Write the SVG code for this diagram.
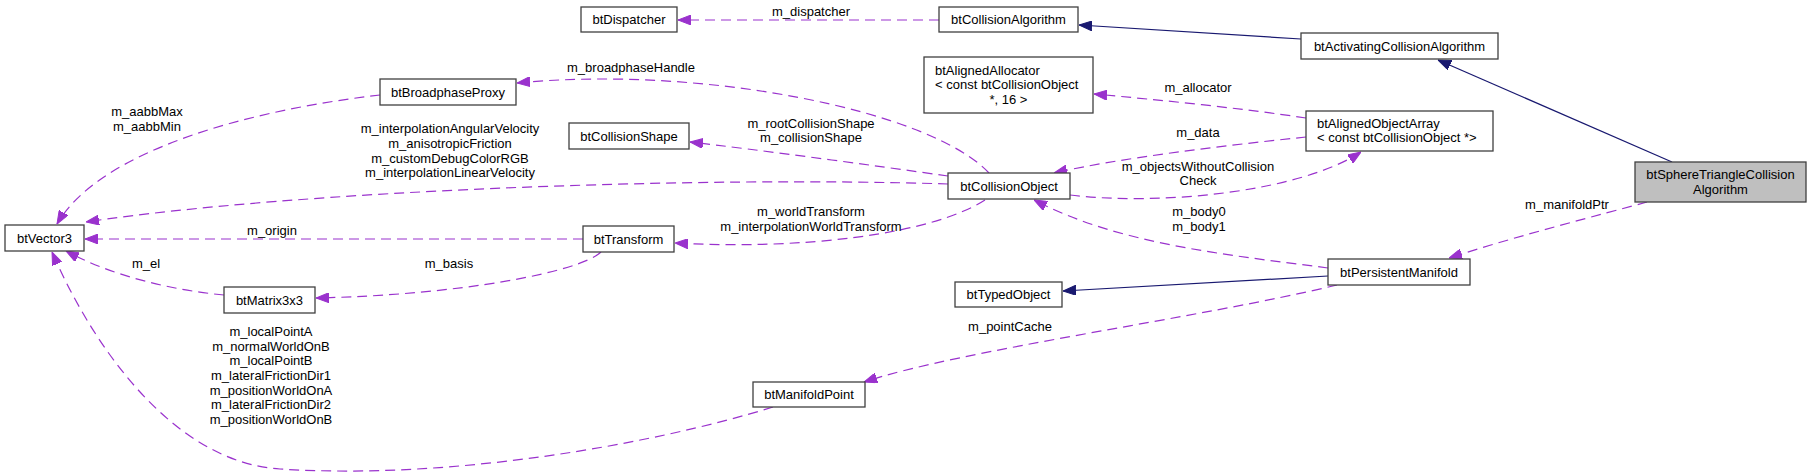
<svg xmlns="http://www.w3.org/2000/svg" width="1811" height="476" viewBox="0 0 1811 476">
<style>
.n rect{fill:#ffffff;stroke:#404040;stroke-width:1.3}
.n.root rect{fill:#bfbfbf}
text{font-family:"Liberation Sans",Arial,sans-serif;font-size:13px;fill:#000000}
.c{text-anchor:middle}
.e path{fill:none;stroke:#9a32cd;stroke-width:1.2;stroke-dasharray:10,6;marker-end:url(#ap)}
.e path.inh{stroke:#191970;stroke-dasharray:none;marker-end:url(#an)}
</style>
<defs>
<marker id="ap" viewBox="0 0 13 10" refX="13" refY="5" markerWidth="13" markerHeight="10" markerUnits="userSpaceOnUse" orient="auto"><path d="M0,0 L13,5 L0,10 z" fill="#9a32cd" stroke="#9a32cd" stroke-width="1"/></marker>
<marker id="an" viewBox="0 0 13 10" refX="13" refY="5" markerWidth="13" markerHeight="10" markerUnits="userSpaceOnUse" orient="auto"><path d="M0,0 L13,5 L0,10 z" fill="#191970" stroke="#191970" stroke-width="1"/></marker>
</defs>
<rect width="1811" height="476" fill="#ffffff"/>
<g id="edges" class="e">
<path d="M939,20 L678,20"/>
<path class="inh" d="M1301,39 L1079,25"/>
<path class="inh" d="M1672,162 L1438,60"/>
<path d="M1647,202 C1600,215 1520,235 1449,258"/>
<path d="M1328,268 C1230,255 1120,245 1034,200"/>
<path class="inh" d="M1328,276 L1063,291"/>
<path d="M1337,285 C1200,318 960,350 864,382"/>
<path d="M1070,195 C1160,206 1300,192 1361,152"/>
<path d="M1306,137 C1220,146 1120,158 1054,173"/>
<path d="M1306,118 C1240,108 1160,100 1094,94"/>
<path d="M989,173 C930,110 700,65 517,83"/>
<path d="M948,176 C870,165 760,150 690,142"/>
<path d="M948,184 C700,176 300,190 86,222"/>
<path d="M985,200 C930,235 800,250 675,243"/>
<path d="M583,239 L85,239"/>
<path d="M601,252 C580,272 460,295 316,298"/>
<path d="M224,295 C170,290 110,275 66,251"/>
<path d="M380,95 C250,110 100,150 57,224"/>
<path d="M773,407 C650,445 450,480 280,469 C170,462 90,340 52,252"/>
</g>
<g id="labels">
<text class="c" x="811" y="16">m_dispatcher</text>
<text class="c" x="1567" y="209">m_manifoldPtr</text>
<text class="c" x="1199" y="216">m_body0</text>
<text class="c" x="1199" y="231">m_body1</text>
<text class="c" x="1010" y="331">m_pointCache</text>
<text class="c" x="1198" y="171">m_objectsWithoutCollision</text>
<text class="c" x="1198" y="185">Check</text>
<text class="c" x="1198" y="137">m_data</text>
<text class="c" x="1198" y="92">m_allocator</text>
<text class="c" x="631" y="72">m_broadphaseHandle</text>
<text class="c" x="811" y="128">m_rootCollisionShape</text>
<text class="c" x="811" y="142">m_collisionShape</text>
<text class="c" x="450" y="133">m_interpolationAngularVelocity</text>
<text class="c" x="450" y="148">m_anisotropicFriction</text>
<text class="c" x="450" y="163">m_customDebugColorRGB</text>
<text class="c" x="450" y="177">m_interpolationLinearVelocity</text>
<text class="c" x="811" y="216">m_worldTransform</text>
<text class="c" x="811" y="231">m_interpolationWorldTransform</text>
<text class="c" x="272" y="235">m_origin</text>
<text class="c" x="449" y="268">m_basis</text>
<text class="c" x="146" y="268">m_el</text>
<text class="c" x="147" y="116">m_aabbMax</text>
<text class="c" x="147" y="131">m_aabbMin</text>
<text class="c" x="271" y="336">m_localPointA</text>
<text class="c" x="271" y="351">m_normalWorldOnB</text>
<text class="c" x="271" y="365">m_localPointB</text>
<text class="c" x="271" y="380">m_lateralFrictionDir1</text>
<text class="c" x="271" y="395">m_positionWorldOnA</text>
<text class="c" x="271" y="409">m_lateralFrictionDir2</text>
<text class="c" x="271" y="424">m_positionWorldOnB</text>
</g>
<g id="btDispatcher" class="n"><rect x="581" y="7" width="96" height="25"/><text class="c" x="629" y="24">btDispatcher</text></g>
<g id="btCollisionAlgorithm" class="n"><rect x="939" y="7" width="139" height="25"/><text class="c" x="1008.5" y="24">btCollisionAlgorithm</text></g>
<g id="btActivatingCollisionAlgorithm" class="n"><rect x="1301" y="33" width="197" height="26"/><text class="c" x="1399.5" y="51">btActivatingCollisionAlgorithm</text></g>
<g id="btBroadphaseProxy" class="n"><rect x="380" y="79" width="136" height="26"/><text class="c" x="448" y="97">btBroadphaseProxy</text></g>
<g id="btAlignedAllocator" class="n"><rect x="924" y="57" width="169" height="56"/><text x="935" y="75">btAlignedAllocator</text><text x="935" y="89">&lt; const btCollisionObject</text><text class="c" x="1008.5" y="104">*, 16 &gt;</text></g>
<g id="btCollisionShape" class="n"><rect x="569" y="123" width="120" height="26"/><text class="c" x="629" y="141">btCollisionShape</text></g>
<g id="btAlignedObjectArray" class="n"><rect x="1306" y="111" width="187" height="40"/><text x="1317" y="128">btAlignedObjectArray</text><text x="1317" y="142">&lt; const btCollisionObject *&gt;</text></g>
<g id="btSphereTriangleCollisionAlgorithm" class="n root"><rect x="1635" y="162" width="171" height="40"/><text class="c" x="1720.5" y="179">btSphereTriangleCollision</text><text class="c" x="1720.5" y="194">Algorithm</text></g>
<g id="btCollisionObject" class="n"><rect x="948" y="173" width="122" height="26"/><text class="c" x="1009" y="191">btCollisionObject</text></g>
<g id="btVector3" class="n"><rect x="5" y="225" width="79" height="26"/><text class="c" x="44.5" y="243">btVector3</text></g>
<g id="btTransform" class="n"><rect x="583" y="226" width="91" height="26"/><text class="c" x="628.5" y="244">btTransform</text></g>
<g id="btPersistentManifold" class="n"><rect x="1328" y="259" width="142" height="26"/><text class="c" x="1399" y="277">btPersistentManifold</text></g>
<g id="btTypedObject" class="n"><rect x="955" y="282" width="107" height="25"/><text class="c" x="1008.5" y="299">btTypedObject</text></g>
<g id="btMatrix3x3" class="n"><rect x="224" y="287" width="91" height="26"/><text class="c" x="269.5" y="305">btMatrix3x3</text></g>
<g id="btManifoldPoint" class="n"><rect x="753" y="382" width="112" height="25"/><text class="c" x="809" y="399">btManifoldPoint</text></g>
</svg>
